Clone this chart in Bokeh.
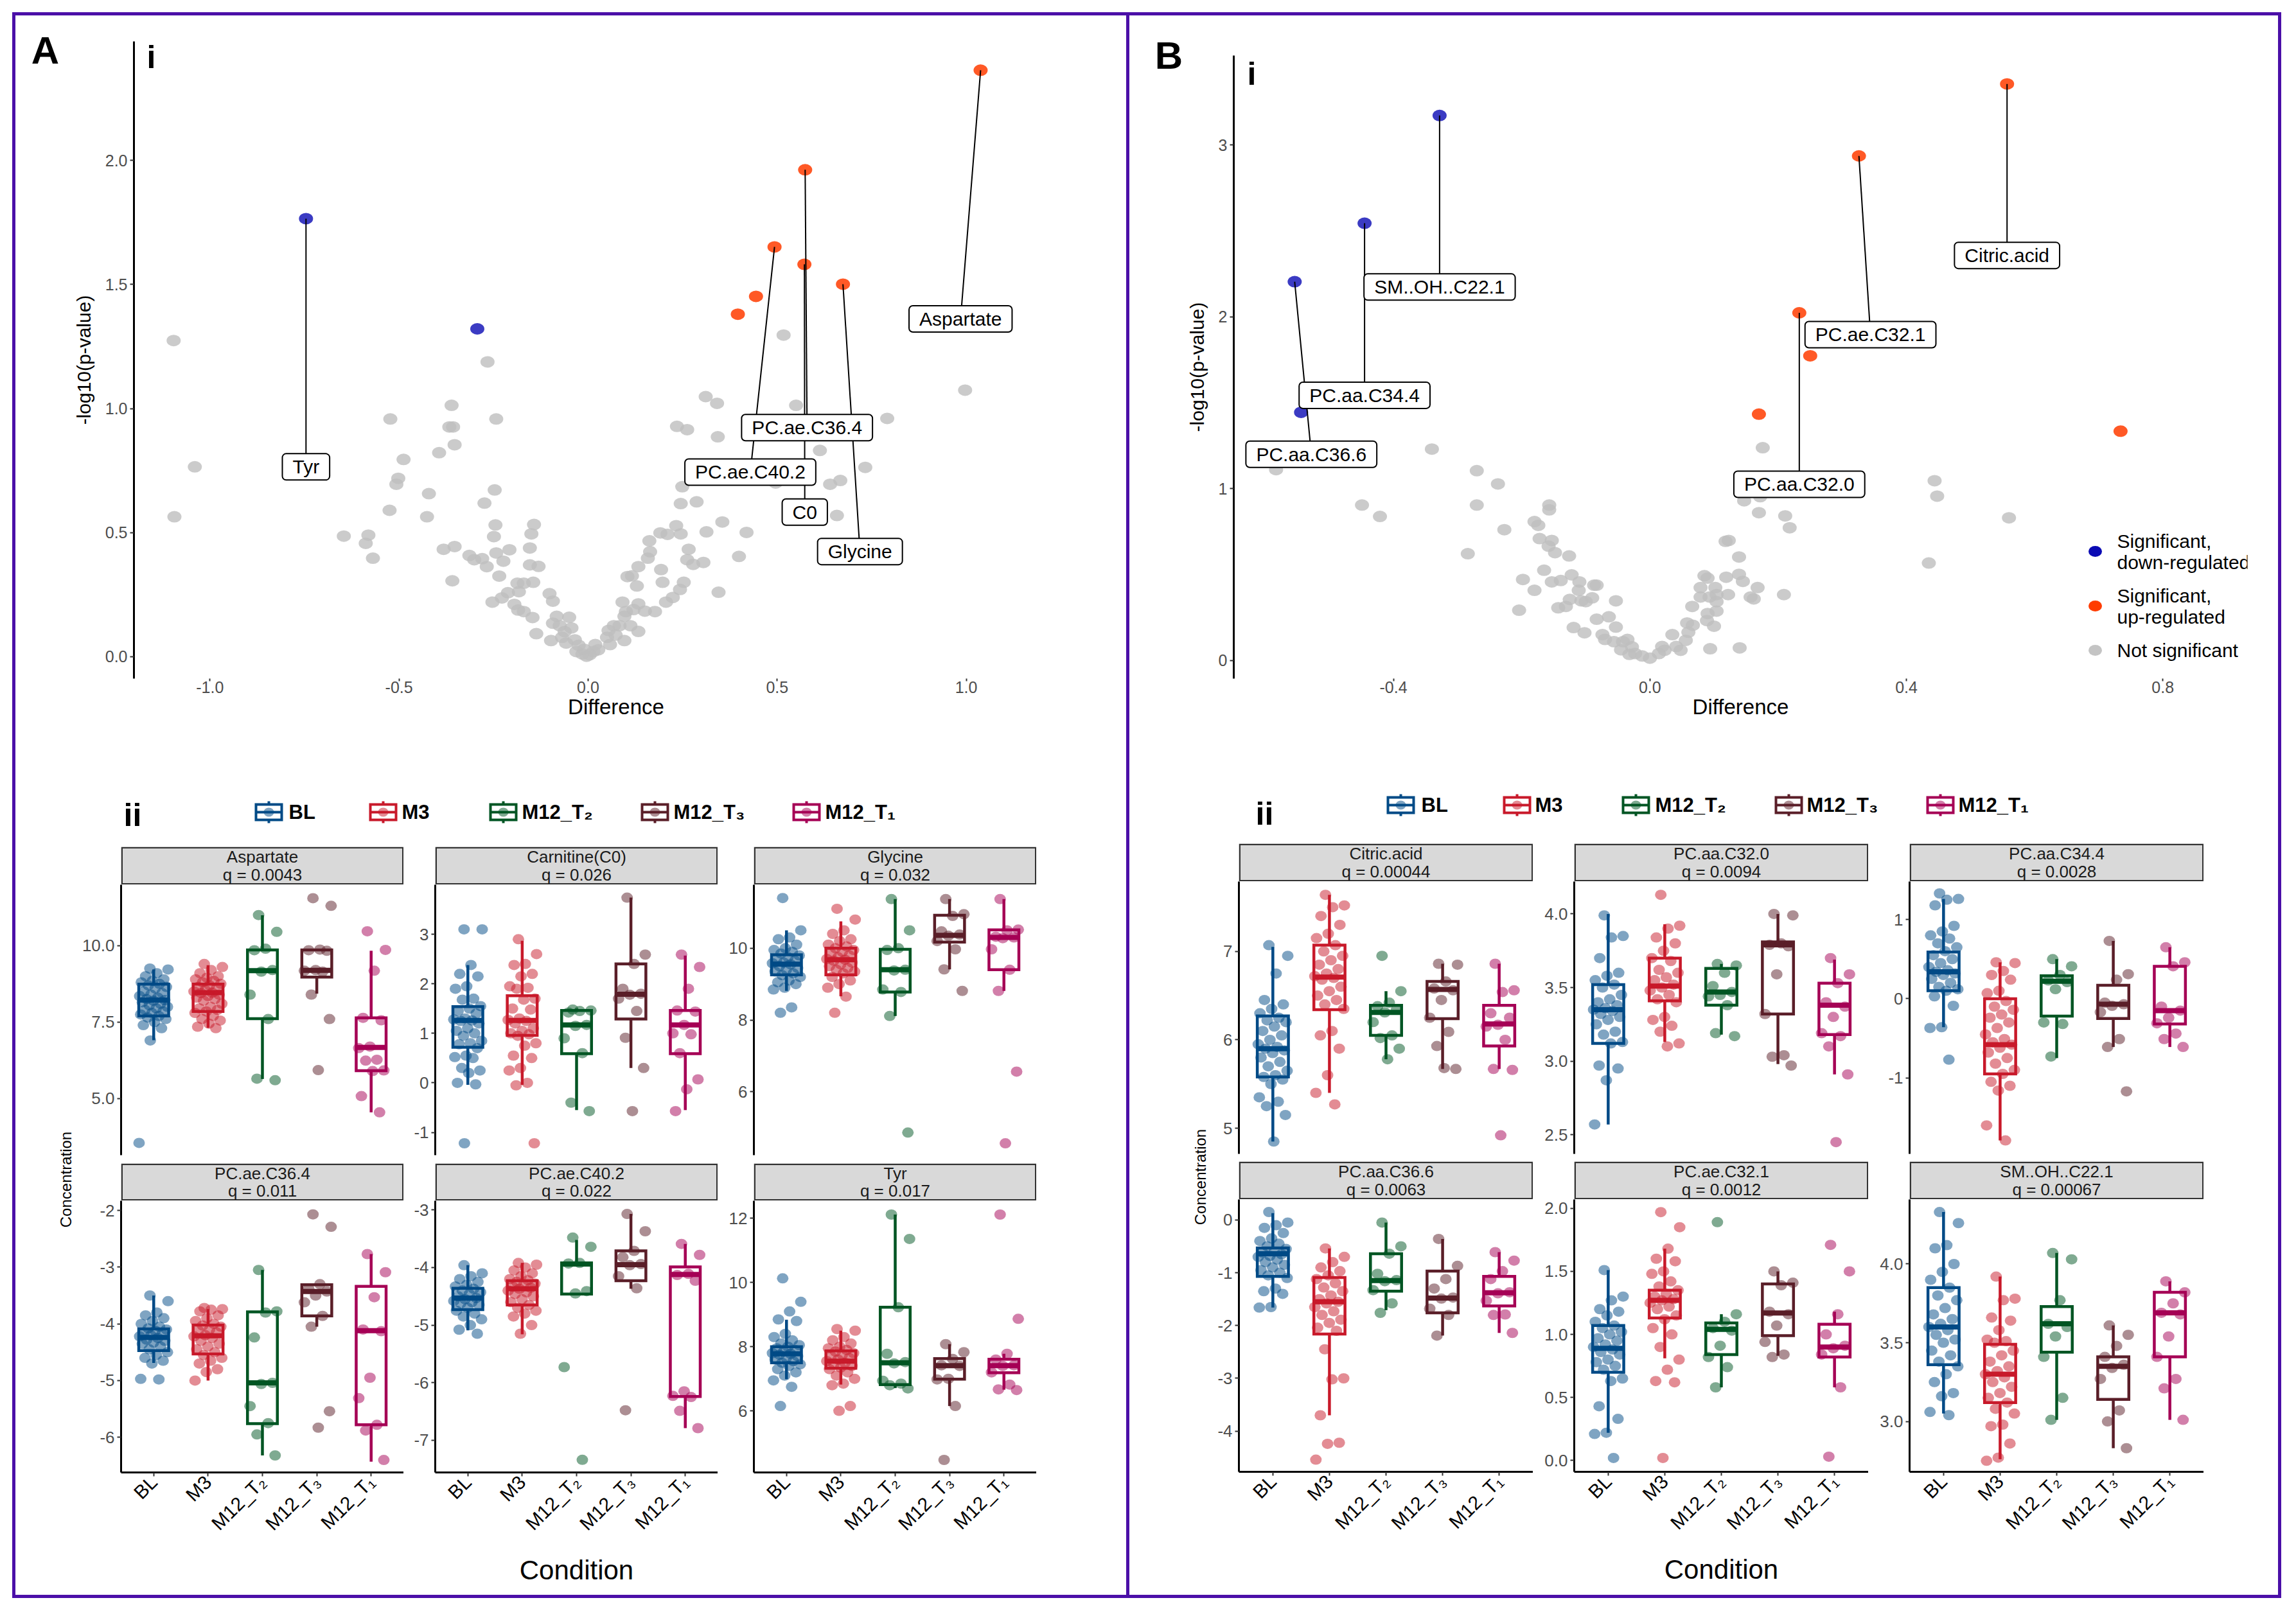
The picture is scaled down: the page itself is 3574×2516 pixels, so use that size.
import math
from bokeh.plotting import figure
from bokeh.layouts import row, column
from bokeh.models import Range1d, FixedTicker, PrintfTickFormatter, Spacer
from bokeh.core.properties import value
from bokeh.embed import file_html
from bokeh.resources import INLINE

FONT = "Liberation Sans"
PURPLE = "#4b0fa8"

# ---------------- groups ----------------
GROUPS = ["BL", "M3", "M12_T\u2082", "M12_T\u2083", "M12_T\u2081"]
GROUP_COLORS = ["#004a86", "#c8192a", "#005523", "#5a1e28", "#a50055"]

# ---------------- volcano A ----------------
voA_ns_x = [-1.096, -1.040, -1.094, -0.646, -0.581, -0.588, -0.569, -0.523, -0.488, -0.502,
            -0.507, -0.525, -0.426, -0.421, -0.394, -0.361, -0.367, -0.357, -0.353, -0.266,
            -0.243, -0.247, -0.274, -0.245, -0.249, -0.382, -0.353, -0.359, -0.314, -0.301,
            -0.280, -0.268, -0.235, -0.243, -0.224, -0.208, -0.154, -0.150, -0.143, -0.154,
            -0.131, -0.187, -0.170, -0.145, -0.183, -0.212, -0.228, -0.253, -0.195, -0.185,
            -0.170, -0.147, -0.102, -0.093, -0.137, -0.098, -0.083, -0.093, -0.075, -0.062,
            -0.050, -0.044, -0.069, -0.058, -0.035, -0.025, -0.031, -0.015, -0.004, -0.010,
            0.517, 0.997, 0.311, 0.341, 0.550, 0.791, 0.235, 0.262, 0.343, 0.613,
            0.733, 0.667, 0.640, 0.496, 0.249, 0.245, 0.287, 0.658, 0.355, 0.419,
            0.233, 0.191, 0.210, 0.245, 0.313, 0.162, 0.266, 0.164, 0.399, 0.262,
            0.278, 0.305, 0.158, 0.133, 0.193, 0.104, 0.116, 0.129, 0.197, 0.253,
            0.243, 0.345, 0.224, 0.206, 0.177, 0.150, 0.133, 0.091, 0.120, 0.100,
            0.096, 0.112, 0.133, 0.083, 0.068, 0.054, 0.050, 0.073, 0.096, 0.058,
            0.019, 0.027, 0.014, 0.004]
voA_ns_y = [1.274, 0.765, 0.564, 0.486, 0.490, 0.457, 0.397, 0.958, 0.795, 0.719,
            0.695, 0.590, 0.564, 0.657, 0.822, 1.013, 0.926, 0.926, 0.854, 1.188,
            0.958, 0.672, 0.619, 0.531, 0.484, 0.433, 0.444, 0.306, 0.408, 0.391,
            0.395, 0.363, 0.325, 0.418, 0.385, 0.431, 0.438, 0.495, 0.533, 0.370,
            0.364, 0.296, 0.296, 0.300, 0.262, 0.258, 0.237, 0.220, 0.211, 0.188,
            0.182, 0.158, 0.254, 0.224, 0.093, 0.065, 0.163, 0.135, 0.125, 0.101,
            0.159, 0.116, 0.078, 0.055, 0.068, 0.046, 0.021, 0.011, 0.002, 0.030,
            1.296, 1.074, 1.048, 1.021, 1.013, 0.960, 0.928, 0.915, 0.886, 0.831,
            0.763, 0.710, 0.695, 0.700, 0.685, 0.617, 0.624, 0.569, 0.543, 0.501,
            0.528, 0.499, 0.493, 0.495, 0.503, 0.467, 0.433, 0.423, 0.404, 0.391,
            0.372, 0.380, 0.397, 0.363, 0.351, 0.323, 0.326, 0.285, 0.300, 0.300,
            0.271, 0.260, 0.239, 0.220, 0.182, 0.184, 0.213, 0.220, 0.190, 0.182,
            0.163, 0.125, 0.102, 0.125, 0.125, 0.106, 0.078, 0.087, 0.065, 0.049,
            0.049, 0.028, 0.021, 0.008]
voA_down_x = [-0.746, -0.293]
voA_down_y = [1.765, 1.321]
voA_up_x = [1.038, 0.574, 0.493, 0.572, 0.674, 0.444, 0.396]
voA_up_y = [2.363, 1.962, 1.651, 1.581, 1.501, 1.452, 1.380]
voA_lab_names = ["Tyr", "Aspartate", "PC.ae.C36.4", "PC.ae.C40.2", "C0", "Glycine"]
voA_lab_px = [-0.746, 1.038, 0.574, 0.493, 0.572, 0.674]
voA_lab_py = [1.765, 2.363, 1.962, 1.651, 1.581, 1.501]
voA_lab_x = [-0.746, 0.985, 0.579, 0.429, 0.573, 0.719]
voA_lab_y = [0.765, 1.361, 0.923, 0.744, 0.583, 0.424]
voA_xticks = [-1.0, -0.5, 0.0, 0.5, 1.0]
voA_yticks = [0.0, 0.5, 1.0, 1.5, 2.0]

# ---------------- volcano B ----------------
voB_ns_x = [-0.583, -0.340, -0.270, -0.237, -0.449, -0.421, -0.270, -0.157, -0.157, -0.180,
            -0.174, -0.227, -0.284, -0.172, -0.153, -0.158, -0.148, -0.126, -0.165, -0.198,
            -0.180, -0.153, -0.139, -0.122, -0.110, -0.111, -0.087, -0.083, -0.107, -0.125,
            -0.090, -0.100, -0.053, -0.204, -0.143, -0.131, -0.119, -0.102, -0.083, -0.064,
            -0.053, -0.074, -0.070, -0.056, -0.042, -0.035, -0.028, -0.045, -0.032, -0.023,
            -0.012, 0.000, 0.014, 0.023, 0.019, 0.035, 0.041, 0.048, 0.056, 0.060,
            0.058, 0.067, 0.100, 0.094, 0.140, 0.066, 0.090, 0.104, 0.089, 0.079,
            0.093, 0.104, 0.104, 0.085, 0.090, 0.119, 0.139, 0.145, 0.168, 0.122,
            0.157, 0.162, 0.209, 0.079, 0.102, 0.118, 0.123, 0.139, 0.170, 0.147,
            0.172, 0.211, 0.218, 0.176, 0.444, 0.448, 0.560, 0.435]
voB_ns_y = [1.111, 1.231, 1.105, 1.028, 0.905, 0.839, 0.905, 0.905, 0.877, 0.809,
            0.787, 0.762, 0.622, 0.710, 0.699, 0.666, 0.628, 0.609, 0.526, 0.472,
            0.409, 0.458, 0.466, 0.499, 0.458, 0.409, 0.439, 0.439, 0.348, 0.356,
            0.365, 0.343, 0.348, 0.293, 0.307, 0.315, 0.192, 0.162, 0.241, 0.255,
            0.195, 0.151, 0.123, 0.110, 0.110, 0.123, 0.080, 0.063, 0.036, 0.041,
            0.027, 0.014, 0.041, 0.060, 0.082, 0.151, 0.082, 0.060, 0.118, 0.165,
            0.219, 0.206, 0.200, 0.069, 0.074, 0.315, 0.274, 0.288, 0.233, 0.370,
            0.370, 0.384, 0.343, 0.494, 0.480, 0.485, 0.502, 0.461, 0.425, 0.384,
            0.370, 0.359, 0.384, 0.425, 0.425, 0.694, 0.699, 0.603, 0.861, 0.930,
            0.954, 0.842, 0.773, 1.239, 1.047, 0.957, 0.831, 0.568]
voB_down_x = [-0.328, -0.445, -0.554, -0.544]
voB_down_y = [3.172, 2.545, 2.205, 1.445]
voB_up_x = [0.557, 0.326, 0.233, 0.250, 0.170, 0.734]
voB_up_y = [3.356, 2.937, 2.024, 1.774, 1.434, 1.335]
voB_lab_names = ["SM..OH..C22.1", "PC.aa.C34.4", "PC.aa.C36.6", "Citric.acid", "PC.ae.C32.1", "PC.aa.C32.0"]
voB_lab_px = [-0.328, -0.445, -0.554, 0.557, 0.326, 0.233]
voB_lab_py = [3.172, 2.545, 2.205, 3.356, 2.937, 2.024]
voB_lab_x = [-0.328, -0.445, -0.528, 0.557, 0.344, 0.233]
voB_lab_y = [2.174, 1.544, 1.201, 2.358, 1.897, 1.026]
voB_xticks = [-0.4, 0.0, 0.4, 0.8]
voB_yticks = [0, 1, 2, 3]
LEGEND_LABELS = ["Significant,\ndown-regulated", "Significant,\nup-regulated", "Not significant"]
C_DOWN, C_UP, C_NS = "#0a0ab4", "#ff3c00", "#bebebe"

# ---------------- box plots, panel A ----------------
A_names = ["Aspartate", "Carnitine(C0)", "Glycine", "PC.ae.C36.4", "PC.ae.C40.2", "Tyr"]
A_q = ["0.0043", "0.026", "0.032", "0.011", "0.022", "0.017"]

A1_box = [[6.91, 7.70, 8.22, 8.74, 9.22], [7.31, 7.85, 8.46, 8.74, 9.36], [5.64, 7.61, 9.18, 9.86, 10.99],
          [8.43, 8.97, 9.19, 9.86, 9.86], [4.55, 5.91, 6.67, 7.64, 9.83]]
A1_pts = [[9.25, 9.22, 9.1, 9.0, 8.9, 8.85, 8.8, 8.75, 8.7, 8.65, 8.6, 8.5, 8.45, 8.4, 8.35, 8.3, 8.25, 8.22,
           8.2, 8.15, 8.1, 8.05, 8.0, 7.95, 7.9, 7.85, 7.8, 7.75, 7.7, 7.65, 7.6, 7.5, 7.4, 7.3, 6.9, 3.55],
          [9.4, 9.3, 9.2, 9.1, 9.0, 8.95, 8.9, 8.85, 8.8, 8.75, 8.7, 8.65, 8.6, 8.55, 8.5, 8.46, 8.45, 8.4,
           8.35, 8.3, 8.25, 8.2, 8.1, 8.0, 7.95, 7.9, 7.85, 7.8, 7.7, 7.6, 7.55, 7.45, 7.35, 7.3],
          [11.0, 10.45, 9.9, 9.85, 9.2, 9.15, 8.4, 7.6, 5.65, 5.6],
          [11.55, 11.3, 9.87, 9.85, 9.83, 9.2, 9.18, 9.15, 8.4, 7.6, 5.93],
          [10.47, 9.86, 9.18, 7.64, 7.56, 6.7, 6.65, 6.27, 6.24, 5.92, 5.9, 5.08, 4.55]]

A2_box = [[-0.04, 0.72, 1.26, 1.54, 2.38], [-0.04, 0.96, 1.26, 1.76, 2.87], [-0.55, 0.59, 1.17, 1.46, 1.50],
          [0.30, 1.29, 1.79, 2.40, 3.74], [-0.55, 0.59, 1.17, 1.46, 2.57]]
A2_pts = [[3.1, 3.1, 2.38, 2.2, 2.15, 1.95, 1.9, 1.7, 1.68, 1.55, 1.5, 1.45, 1.4, 1.3, 1.28, 1.26, 1.25, 1.2,
           1.1, 1.05, 1.0, 0.95, 0.85, 0.8, 0.78, 0.7, 0.55, 0.52, 0.5, 0.3, 0.25, 0.2, 0.0, -0.03, -1.22],
          [2.9, 2.6, 2.4, 2.38, 2.2, 2.15, 1.95, 1.92, 1.9, 1.7, 1.68, 1.5, 1.48, 1.3, 1.27, 1.25, 1.2, 1.1,
           1.05, 1.0, 0.98, 0.95, 0.8, 0.75, 0.55, 0.5, 0.3, 0.25, 0.0, -0.05, -1.22],
          [1.48, 1.46, 1.45, 1.42, 1.17, 1.15, 0.9, 0.6, -0.4, -0.57],
          [3.74, 2.59, 2.4, 1.9, 1.8, 1.78, 1.7, 1.45, 0.91, 0.3, -0.57],
          [2.59, 2.34, 1.9, 1.46, 1.44, 1.17, 1.0, 0.98, 0.6, 0.07, -0.13, -0.57]]

A3_box = [[8.81, 9.26, 9.56, 9.82, 10.50], [8.66, 9.26, 9.68, 10.0, 10.75], [8.11, 8.78, 9.40, 9.97, 11.37],
          [9.41, 10.17, 10.36, 10.92, 11.37], [8.81, 9.40, 10.30, 10.51, 11.37]]
A3_pts = [[11.4, 10.5, 10.3, 10.25, 10.1, 10.0, 9.95, 9.9, 9.85, 9.8, 9.75, 9.7, 9.65, 9.6, 9.58, 9.55, 9.5,
           9.45, 9.4, 9.35, 9.3, 9.25, 9.2, 9.1, 9.05, 9.0, 8.9, 8.85, 8.35, 8.2],
          [11.1, 10.8, 10.5, 10.4, 10.25, 10.2, 10.1, 10.05, 10.0, 9.95, 9.9, 9.85, 9.8, 9.75, 9.7, 9.68, 9.65,
           9.6, 9.55, 9.5, 9.45, 9.4, 9.35, 9.3, 9.2, 9.1, 9.0, 8.9, 8.65, 8.2],
          [11.37, 10.5, 10.0, 9.95, 9.4, 9.38, 8.85, 8.78, 8.11, 4.86],
          [11.37, 10.95, 10.9, 10.47, 10.38, 10.35, 10.2, 9.97, 9.41, 8.81],
          [11.37, 10.52, 10.5, 10.32, 10.3, 10.28, 9.97, 9.4, 8.81, 6.56, 4.56]]

A4_box = [[-4.69, -4.47, -4.24, -4.09, -3.50], [-5.0, -4.53, -4.21, -4.02, -3.74], [-6.32, -5.76, -5.04, -3.79, -3.05],
          [-4.05, -3.86, -3.43, -3.31, -3.31], [-6.43, -5.78, -4.12, -3.34, -2.77]]
A4_pts = [[-3.5, -3.6, -3.8, -3.85, -3.9, -3.95, -4.0, -4.05, -4.08, -4.1, -4.12, -4.15, -4.18, -4.2, -4.22,
           -4.25, -4.28, -4.3, -4.33, -4.35, -4.4, -4.45, -4.5, -4.55, -4.6, -4.65, -4.7, -4.97, -4.98],
          [-3.72, -3.74, -3.75, -3.78, -3.85, -3.9, -3.95, -4.0, -4.03, -4.05, -4.1, -4.12, -4.15, -4.2, -4.22,
           -4.25, -4.3, -4.35, -4.4, -4.45, -4.5, -4.55, -4.6, -4.65, -4.7, -4.8, -4.85, -5.0],
          [-3.05, -3.78, -3.8, -4.24, -5.04, -5.06, -5.45, -5.75, -5.95, -6.32],
          [-2.07, -2.29, -3.3, -3.38, -3.43, -3.5, -3.62, -3.86, -4.05, -5.54, -5.83],
          [-2.77, -3.09, -3.53, -4.1, -4.13, -4.95, -5.31, -5.78, -5.88, -6.4]]

A5_box = [[-5.09, -4.73, -4.53, -4.36, -3.96], [-5.16, -4.65, -4.37, -4.23, -3.92], [-4.46, -4.46, -3.94, -3.92, -3.52],
          [-4.37, -4.23, -3.95, -3.71, -3.07], [-6.79, -6.24, -4.12, -3.99, -3.59]]
A5_pts = [[-3.96, -4.1, -4.15, -4.2, -4.25, -4.3, -4.33, -4.37, -4.4, -4.43, -4.46, -4.5, -4.53, -4.55, -4.58,
           -4.6, -4.62, -4.65, -4.7, -4.75, -4.8, -4.85, -4.9, -5.0, -5.08, -5.15],
          [-3.92, -3.95, -4.0, -4.05, -4.1, -4.15, -4.2, -4.22, -4.25, -4.28, -4.3, -4.33, -4.35, -4.37, -4.4,
           -4.43, -4.46, -4.5, -4.55, -4.6, -4.65, -4.7, -4.75, -4.8, -4.85, -5.0, -5.15],
          [-3.48, -3.64, -3.92, -3.93, -4.41, -4.45, -5.73, -7.34],
          [-3.07, -3.37, -3.71, -3.82, -3.94, -3.96, -4.15, -4.36, -6.48],
          [-3.59, -3.78, -4.11, -4.13, -4.23, -6.15, -6.23, -6.25, -6.49, -6.79]]

A6_box = [[6.99, 7.50, 7.78, 8.0, 8.84], [6.82, 7.33, 7.55, 7.87, 8.50], [6.71, 6.82, 7.50, 9.23, 12.12],
          [6.15, 6.99, 7.41, 7.63, 8.08], [6.66, 7.19, 7.41, 7.61, 7.78]]
A6_pts = [[10.13, 9.4, 9.1, 8.85, 8.8, 8.4, 8.3, 8.2, 8.1, 8.05, 8.0, 7.95, 7.9, 7.85, 7.8, 7.78, 7.75, 7.7,
           7.65, 7.6, 7.55, 7.5, 7.45, 7.4, 7.3, 7.2, 7.1, 6.95, 6.75, 6.15],
          [8.55, 8.5, 8.3, 8.2, 8.1, 8.0, 7.95, 7.9, 7.85, 7.8, 7.75, 7.7, 7.65, 7.6, 7.55, 7.5, 7.45, 7.4,
           7.35, 7.3, 7.2, 7.1, 7.0, 6.85, 6.8, 6.15, 6.0],
          [12.12, 11.36, 9.23, 7.78, 7.52, 7.48, 6.94, 6.85, 6.8, 6.7],
          [8.08, 7.83, 7.62, 7.42, 7.4, 7.0, 6.98, 6.15, 4.47],
          [12.12, 8.87, 7.78, 7.6, 7.42, 7.4, 7.2, 6.82, 6.67, 6.65]]

A_yranges = [(3.15, 11.99), (-1.46, 4.0), (4.23, 11.77), (-6.62, -1.83), (-7.56, -2.84), (4.08, 12.55)]
A_yticks = [[5.0, 7.5, 10.0], [-1, 0, 1, 2, 3], [6, 8, 10], [-6, -5, -4, -3, -2], [-7, -6, -5, -4, -3], [6, 8, 10, 12]]
A_yfmt = ["%.1f", "%d", "%d", "%d", "%d", "%d"]

# ---------------- box plots, panel B ----------------
B_names = ["Citric.acid", "PC.aa.C32.0", "PC.aa.C34.4", "PC.aa.C36.6", "PC.ae.C32.1", "SM..OH..C22.1"]
B_q = ["0.00044", "0.0094", "0.0028", "0.0063", "0.0012", "0.00067"]

B1_box = [[4.85, 5.58, 5.90, 6.27, 7.05], [5.40, 6.34, 6.71, 7.07, 7.64], [5.78, 6.05, 6.31, 6.39, 6.55],
          [5.67, 6.24, 6.57, 6.66, 6.86], [5.67, 5.93, 6.18, 6.39, 6.86]]
B1_pts = [[7.07, 6.95, 6.75, 6.45, 6.4, 6.35, 6.3, 6.25, 6.22, 6.2, 6.15, 6.1, 6.05, 6.0, 5.95, 5.92, 5.9,
           5.88, 5.85, 5.8, 5.75, 5.7, 5.65, 5.6, 5.58, 5.55, 5.5, 5.35, 5.3, 5.25, 5.15, 4.85],
          [7.64, 7.52, 7.5, 7.4, 7.3, 7.2, 7.15, 7.07, 7.0, 6.95, 6.9, 6.85, 6.8, 6.75, 6.72, 6.7, 6.68, 6.6,
           6.55, 6.5, 6.45, 6.4, 6.35, 6.1, 6.05, 5.9, 5.6, 5.4, 5.27],
          [6.95, 6.55, 6.42, 6.38, 6.34, 6.31, 6.2, 6.05, 6.02, 5.9, 5.78],
          [6.86, 6.85, 6.66, 6.58, 6.56, 6.45, 6.25, 6.09, 5.93, 5.67, 5.68],
          [6.86, 6.56, 6.54, 6.3, 6.25, 6.17, 6.15, 6.0, 5.67, 5.66, 4.92]]

B2_box = [[2.57, 3.12, 3.35, 3.52, 4.0], [3.13, 3.41, 3.51, 3.70, 3.93], [3.18, 3.38, 3.47, 3.63, 3.66],
          [2.98, 3.32, 3.79, 3.81, 4.0], [2.91, 3.18, 3.38, 3.53, 3.69]]
B2_pts = [[3.99, 3.85, 3.84, 3.7, 3.6, 3.58, 3.55, 3.52, 3.5, 3.45, 3.42, 3.4, 3.38, 3.36, 3.35, 3.34, 3.32,
           3.3, 3.28, 3.25, 3.2, 3.18, 3.13, 3.12, 2.97, 2.95, 2.87, 2.57],
          [4.13, 3.92, 3.9, 3.84, 3.8, 3.75, 3.7, 3.68, 3.62, 3.6, 3.57, 3.55, 3.52, 3.5, 3.48, 3.45, 3.42, 3.4,
           3.3, 3.28, 3.24, 3.2, 3.12, 3.1],
          [3.66, 3.65, 3.6, 3.51, 3.47, 3.45, 3.44, 3.38, 3.19, 3.17],
          [4.0, 3.99, 3.8, 3.79, 3.78, 3.59, 3.32, 3.04, 3.03, 2.97],
          [3.7, 3.59, 3.53, 3.4, 3.37, 3.3, 3.19, 3.17, 3.1, 2.91, 2.45]]

B3_box = [[-0.36, 0.10, 0.34, 0.59, 1.26], [-1.79, -0.95, -0.58, 0.0, 0.46], [-0.75, -0.22, 0.22, 0.29, 0.50],
          [-0.61, -0.25, -0.07, 0.17, 0.73], [-0.61, -0.32, -0.15, 0.41, 0.65]]
B3_pts = [[1.33, 1.26, 1.25, 1.18, 0.92, 0.85, 0.8, 0.76, 0.7, 0.65, 0.6, 0.55, 0.5, 0.45, 0.4, 0.36, 0.34,
           0.32, 0.3, 0.25, 0.2, 0.15, 0.12, 0.1, 0.03, -0.09, -0.36, -0.37, -0.77],
          [0.46, 0.45, 0.35, 0.3, 0.24, 0.1, 0.07, -0.03, -0.1, -0.14, -0.2, -0.24, -0.3, -0.37, -0.45, -0.51,
           -0.55, -0.58, -0.62, -0.68, -0.75, -0.82, -0.9, -0.95, -1.05, -1.1, -1.16, -1.6, -1.79],
          [0.5, 0.41, 0.3, 0.23, 0.21, 0.12, -0.3, -0.32, -0.73],
          [0.73, 0.31, 0.24, -0.05, -0.07, -0.09, -0.17, -0.51, -0.61, -1.17],
          [0.65, 0.46, 0.41, -0.1, -0.15, -0.24, -0.31, -0.44, -0.51, -0.61]]

B4_box = [[-1.66, -1.07, -0.64, -0.53, 0.13], [-3.70, -2.16, -1.55, -1.09, -0.54], [-1.71, -1.35, -1.15, -0.64, -0.05],
          [-2.19, -1.76, -1.48, -0.97, -0.36], [-2.14, -1.63, -1.38, -1.07, -0.61]]
B4_pts = [[0.15, -0.05, -0.1, -0.15, -0.25, -0.35, -0.4, -0.45, -0.5, -0.55, -0.6, -0.62, -0.65, -0.68, -0.7,
           -0.75, -0.8, -0.85, -0.9, -0.95, -1.0, -1.05, -1.1, -1.3, -1.35, -1.4, -1.65, -1.66],
          [-0.54, -0.7, -0.8, -0.9, -0.97, -1.05, -1.12, -1.2, -1.28, -1.35, -1.43, -1.5, -1.55, -1.58, -1.65,
           -1.73, -1.8, -1.89, -1.95, -2.04, -2.1, -2.45, -3.0, -3.02, -3.7, -4.22, -4.24, -4.54],
          [-0.05, -0.5, -0.64, -1.02, -1.14, -1.16, -1.33, -1.58, -1.76],
          [-0.36, -0.87, -1.12, -1.3, -1.47, -1.49, -1.68, -1.8, -2.19],
          [-0.61, -0.77, -0.97, -1.12, -1.37, -1.39, -1.53, -1.79, -1.8, -2.14]]

B5_box = [[0.22, 0.70, 0.89, 1.07, 1.51], [0.81, 1.13, 1.27, 1.35, 1.68], [0.58, 0.84, 1.04, 1.09, 1.16],
          [0.83, 0.99, 1.17, 1.40, 1.50], [0.58, 0.82, 0.90, 1.08, 1.18]]
B5_pts = [[1.51, 1.3, 1.27, 1.2, 1.18, 1.15, 1.1, 1.07, 1.05, 1.02, 1.0, 0.97, 0.95, 0.92, 0.9, 0.88, 0.86,
           0.84, 0.8, 0.78, 0.75, 0.72, 0.65, 0.63, 0.43, 0.33, 0.22, 0.21, 0.02],
          [1.97, 1.85, 1.68, 1.6, 1.58, 1.5, 1.48, 1.42, 1.38, 1.35, 1.32, 1.3, 1.28, 1.27, 1.25, 1.22, 1.2,
           1.15, 1.12, 1.05, 1.0, 0.9, 0.8, 0.72, 0.63, 0.62, 0.02],
          [1.89, 1.16, 1.1, 1.05, 1.03, 0.91, 0.82, 0.74, 0.58],
          [1.5, 1.41, 1.39, 1.18, 1.16, 1.07, 0.94, 0.84, 0.82],
          [1.71, 1.5, 1.16, 1.0, 0.91, 0.89, 0.84, 0.58, 0.03]]

B6_box = [[3.05, 3.36, 3.60, 3.85, 4.33], [2.76, 3.12, 3.30, 3.49, 3.92], [3.01, 3.44, 3.62, 3.73, 4.07],
          [2.83, 3.14, 3.35, 3.41, 3.61], [3.01, 3.41, 3.69, 3.82, 3.89]]
B6_pts = [[4.33, 4.26, 4.12, 4.1, 4.0, 3.95, 3.9, 3.85, 3.8, 3.77, 3.72, 3.68, 3.65, 3.62, 3.6, 3.58, 3.55,
           3.52, 3.5, 3.45, 3.42, 3.38, 3.35, 3.3, 3.25, 3.18, 3.16, 3.06, 3.04],
          [3.92, 3.78, 3.77, 3.66, 3.64, 3.58, 3.52, 3.51, 3.5, 3.45, 3.42, 3.38, 3.35, 3.32, 3.3, 3.28, 3.25,
           3.22, 3.18, 3.15, 3.12, 3.08, 3.05, 2.98, 2.97, 2.86, 2.77, 2.75],
          [4.07, 4.03, 3.77, 3.62, 3.6, 3.54, 3.41, 3.15, 3.01],
          [3.61, 3.55, 3.48, 3.41, 3.36, 3.34, 3.27, 3.07, 3.0, 2.83],
          [3.89, 3.82, 3.75, 3.69, 3.68, 3.54, 3.41, 3.27, 3.21, 3.01]]

B_yranges = [(4.71, 7.79), (2.37, 4.22), (-1.96, 1.48), (-4.77, 0.387), (-0.09, 2.07), (2.68, 4.41)]
B_yticks = [[5, 6, 7], [2.5, 3.0, 3.5, 4.0], [-1, 0, 1], [-4, -3, -2, -1, 0], [0.0, 0.5, 1.0, 1.5, 2.0], [3.0, 3.5, 4.0]]
B_yfmt = ["%d", "%.1f", "%d", "%d", "%.1f", "%.1f"]


# ================= helpers =================
def make_fig(fw, fh, xr, yr, left=0, right=0, top=0, bottom=0, xloc=None, yloc=None):
    p = figure(frame_width=fw, frame_height=fh,
               x_range=Range1d(*xr), y_range=Range1d(*yr),
               min_border_left=left, min_border_right=right,
               min_border_top=top, min_border_bottom=bottom,
               x_axis_location=xloc, y_axis_location=yloc,
               output_backend="svg", toolbar_location=None, tools="")
    p.frame_align = False
    p.outline_line_color = None
    p.grid.visible = False
    p.background_fill_color = "white"
    p.border_fill_color = "white"
    return p


def style_axis(ax, size, color):
    ax.major_label_text_font = FONT
    ax.major_label_text_font_size = size
    ax.major_label_text_color = color
    ax.minor_tick_line_color = None
    ax.axis_label_text_font = FONT
    ax.axis_label_text_font_style = "normal"
    ax.axis_label_text_color = "black"


def jitter(n, w=0.27):
    return [((k * 0.6180339887 + 0.37) % 1.0 - 0.5) * 2 * w for k in range(n)]


def px2data(X, Y, spec):
    fl, ft, fw, fh, xr, yr = spec
    return (xr[0] + (X - fl) / fw * (xr[1] - xr[0]),
            yr[1] - (Y - ft) / fh * (yr[1] - yr[0]))


def volcano(spec, borders, ns_x, ns_y, dn_x, dn_y, up_x, up_y, lab_names, lab_px, lab_py,
            lab_x, lab_y, xticks, xfmt, yticks, yfmt, sub_xy):
    fl, ft, fw, fh, xr, yr = spec
    L, R, T, B = borders
    p = make_fig(fw, fh, xr, yr, left=L, right=R, top=T, bottom=B, xloc="below", yloc="left")
    p.ellipse(x=ns_x, y=ns_y, width=22, height=18, width_units="screen", height_units="screen",
              fill_color=C_NS, fill_alpha=0.8, line_color=None)
    p.ellipse(x=dn_x, y=dn_y, width=22, height=18, width_units="screen", height_units="screen",
              fill_color=C_DOWN, fill_alpha=0.8, line_color=None)
    p.ellipse(x=up_x, y=up_y, width=22, height=18, width_units="screen", height_units="screen",
              fill_color=C_UP, fill_alpha=0.85, line_color=None)
    p.segment(x0=lab_px, y0=lab_py, x1=lab_x, y1=lab_y, line_color="black", line_width=2)
    p.text(x=lab_x, y=lab_y, text=lab_names, text_align="center", text_baseline="middle",
           text_font=value(FONT), text_font_size="30px", text_color="black",
           background_fill_color="white", border_line_color="black", border_line_width=2,
           padding=(16, 4), border_radius=6)
    xa = p.xaxis[0]
    style_axis(xa, "25px", "#4d4d4d")
    xa.ticker = FixedTicker(ticks=xticks)
    xa.formatter = PrintfTickFormatter(format=xfmt)
    xa.axis_line_color = None
    xa.major_tick_in = 0
    xa.major_tick_out = 4
    xa.major_tick_line_color = "#333333"
    xa.major_tick_line_width = 2
    xa.major_label_standoff = 0
    xa.axis_label = "Difference"
    xa.axis_label_text_font_size = "33px"
    xa.axis_label_standoff = 0
    ya = p.yaxis[0]
    style_axis(ya, "25px", "#4d4d4d")
    ya.ticker = FixedTicker(ticks=yticks)
    ya.formatter = PrintfTickFormatter(format=yfmt)
    ya.axis_line_color = "black"
    ya.axis_line_width = 3
    ya.major_tick_in = 0
    ya.major_tick_out = 6
    ya.major_tick_line_color = "#333333"
    ya.major_tick_line_width = 2
    ya.major_label_standoff = 4
    ya.axis_label = "-log10(p-value)"
    ya.axis_label_text_font_size = "30px"
    ya.axis_label_standoff = 14
    sx, sy = px2data(sub_xy[0], sub_xy[1], spec)
    p.text(x=[sx], y=[sy], text=["i"], text_align="center", text_baseline="middle",
           text_font=value(FONT), text_font_size="50px", text_font_style="bold", text_color="black")
    return p


def letter_fig(fw, fh, x, y, txt):
    p = make_fig(fw, fh, (0, fw), (fh, 0))
    p.text(x=[x], y=[y], text=[txt], text_align="center", text_baseline="middle",
           text_font=value(FONT), text_font_size="60px", text_font_style="bold", text_color="black")
    return p


def legend_fig(fw, fh, ii_xy, key_x, key_y, text_x):
    p = make_fig(fw, fh, (0, fw), (fh, 0))
    p.text(x=[ii_xy[0]], y=[ii_xy[1]], text=["ii"], text_align="center", text_baseline="middle",
           text_font=value(FONT), text_font_size="50px", text_font_style="bold", text_color="black")
    for i, g in enumerate(GROUPS):
        cx, cy, col = key_x[i], key_y, GROUP_COLORS[i]
        p.segment(x0=[cx], y0=[cy - 17], x1=[cx], y1=[cy + 17], line_color=col, line_width=4)
        p.quad(left=[cx - 20], right=[cx + 20], bottom=[cy + 12], top=[cy - 12], fill_color="white",
               line_color=col, line_width=4, line_join="miter")
        p.segment(x0=[cx - 20], y0=[cy], x1=[cx + 20], y1=[cy], line_color=col, line_width=4)
        p.ellipse(x=[cx], y=[cy], width=16, height=14, fill_color=col, fill_alpha=0.5, line_color=None)
        p.text(x=[text_x[i]], y=[cy], text=[g], text_align="left", text_baseline="middle",
               text_font=value(FONT), text_font_size="31px", text_font_style="bold", text_color="black")
    return p


def strip_fig(fw, fh, left, txt):
    p = make_fig(fw, fh, (0, fw), (0, fh), left=left)
    p.quad(left=[1.25], right=[fw - 1.25], bottom=[1.25], top=[fh - 1.25], fill_color="#d9d9d9",
           line_color="#333333", line_width=2.5, line_join="miter")
    p.text(x=[fw / 2], y=[fh / 2], text=[txt], text_align="center", text_baseline="middle",
           text_font=value(FONT), text_font_size="26px", text_color="#1a1a1a", text_line_height=0.92)
    return p


def box_panel(pts, box, yr, yticks, yfmt, fw, fh, left, bottom, show_x, xlabel=None):
    p = make_fig(fw, fh, (0.4, 5.6), yr, left=left, bottom=bottom,
                 xloc="below" if show_x else None, yloc="left")
    hw = 0.275
    for gi in range(5):
        xc = gi + 1
        lw, q1, med, q3, uw = box[gi]
        col = GROUP_COLORS[gi]
        p.segment(x0=[xc, xc], y0=[lw, q3], x1=[xc, xc], y1=[q1, uw], line_color=col, line_width=4.5)
        p.quad(left=[xc - hw], right=[xc + hw], bottom=[q1], top=[q3], fill_color="white",
               line_color=col, line_width=4.5, line_join="miter")
        p.segment(x0=[xc - hw], y0=[med], x1=[xc + hw], y1=[med], line_color=col, line_width=8)
    for gi in range(5):
        vals = pts[gi]
        offs = jitter(len(vals))
        p.ellipse(x=[gi + 1 + o for o in offs], y=vals, width=18, height=16,
                  width_units="screen", height_units="screen",
                  fill_color=GROUP_COLORS[gi], fill_alpha=0.5, line_color=None)
    ya = p.yaxis[0]
    style_axis(ya, "26px", "#4d4d4d")
    ya.ticker = FixedTicker(ticks=yticks)
    ya.formatter = PrintfTickFormatter(format=yfmt)
    ya.axis_line_color = "black"
    ya.axis_line_width = 3
    ya.major_tick_in = 0
    ya.major_tick_out = 6
    ya.major_tick_line_color = "#333333"
    ya.major_tick_line_width = 2
    ya.major_label_standoff = 4
    if show_x:
        xa = p.xaxis[0]
        style_axis(xa, "30px", "black")
        xa.ticker = FixedTicker(ticks=[1, 2, 3, 4, 5])
        xa.major_label_overrides = {i + 1: g for i, g in enumerate(GROUPS)}
        xa.major_label_orientation = math.pi / 4
        xa.axis_line_color = "black"
        xa.axis_line_width = 3
        xa.major_tick_in = 0
        xa.major_tick_out = 6
        xa.major_tick_line_color = "#333333"
        xa.major_tick_line_width = 2
        xa.major_label_standoff = 4
        if xlabel:
            xa.axis_label = xlabel
            xa.axis_label_text_font_size = "42px"
            xa.axis_label_standoff = 18
    return p


def text_fig(fw, fh, x, y, txt):
    p = make_fig(fw, fh, (0, fw), (fh, 0))
    p.text(x=[x], y=[y], text=[txt], angle=math.pi / 2, text_align="center", text_baseline="middle",
           text_font=value(FONT), text_font_size="24px", text_color="black")
    return p


def box_grid(names, qs, pts_list, box_list, yranges, yticks, yfmts, conc_w, conc_xy,
             lefts, fw, strip_h, panel_h, gap, bottom, right_pad):
    cols = []
    for c in range(3):
        items = []
        for r in range(2):
            k = r * 3 + c
            items.append(strip_fig(fw, strip_h[r], lefts[c], names[k] + "\nq = " + qs[k]))
            items.append(box_panel(pts_list[k], box_list[k], yranges[k], yticks[k], yfmts[k], fw,
                                   panel_h[r], lefts[c], gap if r == 0 else bottom, r == 1,
                                   "Condition" if (r == 1 and c == 1) else None))
        cols.append(column(*items, spacing=0))
    total_h = strip_h[0] + panel_h[0] + gap + strip_h[1] + panel_h[1] + bottom
    conc = text_fig(conc_w, total_h, conc_xy[0], conc_xy[1], "Concentration")
    return row(conc, *cols, Spacer(width=right_pad, height=total_h), spacing=0)


# ================= panel A =================
specA = (210, 66, 1501, 992, (-1.201, 1.349), (-0.088, 2.479))
voA = volcano(specA, (104, 44, 40, 82), voA_ns_x, voA_ns_y, voA_down_x, voA_down_y, voA_up_x, voA_up_y,
              voA_lab_names, voA_lab_px, voA_lab_py, voA_lab_x, voA_lab_y,
              voA_xticks, "%.1f", voA_yticks, "%.1f", (237, 90))
letA = letter_fig(80, 1114, 46, 54, "A")
legA = legend_fig(1729, 180, (182, 130), [394, 572, 759, 995, 1231], 126, [425, 601, 788, 1024, 1260])
gridA = box_grid(A_names, A_q, [A1_pts, A2_pts, A3_pts, A4_pts, A5_pts, A6_pts],
                 [A1_box, A2_box, A3_box, A4_box, A5_box, A6_box], A_yranges, A_yticks, A_yfmt,
                 100, (78, 518), [64, 49, 56], 440, [59, 58], [421, 423], 13, 191, 140)
panelA = column(row(letA, voA, spacing=0), legA, gridA, spacing=0,
                styles={"border": "5px solid " + PURPLE})

# ================= panel B =================
specB = (1922, 88, 1578, 970, (-0.649, 0.932), (-0.1047, 3.521))
voB = volcano(specB, (78, 48, 62, 82), voB_ns_x, voB_ns_y, voB_down_x, voB_down_y, voB_up_x, voB_up_y,
              voB_lab_names, voB_lab_px, voB_lab_py, voB_lab_x, voB_lab_y,
              voB_xticks, "%.1f", voB_yticks, "%d", (1950, 116))
letB = letter_fig(84, 1114, 61, 62, "B")
# legend inside volcano B
leg_dot_px = [(3263, 860), (3263, 945), (3263, 1014)]
leg_cols = [C_DOWN, C_UP, "#c4c4c4"]
for (X, Y), col, lab in zip(leg_dot_px, leg_cols, LEGEND_LABELS):
    dx, dy = px2data(X, Y, specB)
    tx, _ = px2data(X + 34, Y, specB)
    voB.ellipse(x=[dx], y=[dy], width=21, height=17, width_units="screen", height_units="screen",
                fill_color=col, line_color=None)
    voB.text(x=[tx], y=[dy], text=[lab], text_align="left", text_baseline="middle",
             text_font=value(FONT), text_font_size="30px", text_color="black", text_line_height=1.0)

legB = legend_fig(1788, 175, (210, 128), [422, 603, 788, 1026, 1262], 115, [454, 631, 818, 1054, 1290])
gridB = box_grid(B_names, B_q, [B1_pts, B2_pts, B3_pts, B4_pts, B5_pts, B6_pts],
                 [B1_box, B2_box, B3_box, B4_box, B5_box, B6_box], B_yranges, B_yticks, B_yfmt,
                 130, (110, 519), [40, 64, 64], 458, [59, 59], [424, 424], 12, 192, 116)
panelB = column(row(letB, voB, spacing=0), legB, gridB, spacing=0,
                styles={"border-top": "5px solid " + PURPLE, "border-right": "5px solid " + PURPLE,
                        "border-bottom": "5px solid " + PURPLE})

root = column(Spacer(width=10, height=19),
              row(Spacer(width=19, height=10), panelA, panelB, spacing=0),
              spacing=0)

open("out.html", "w").write(file_html(root, INLINE))
